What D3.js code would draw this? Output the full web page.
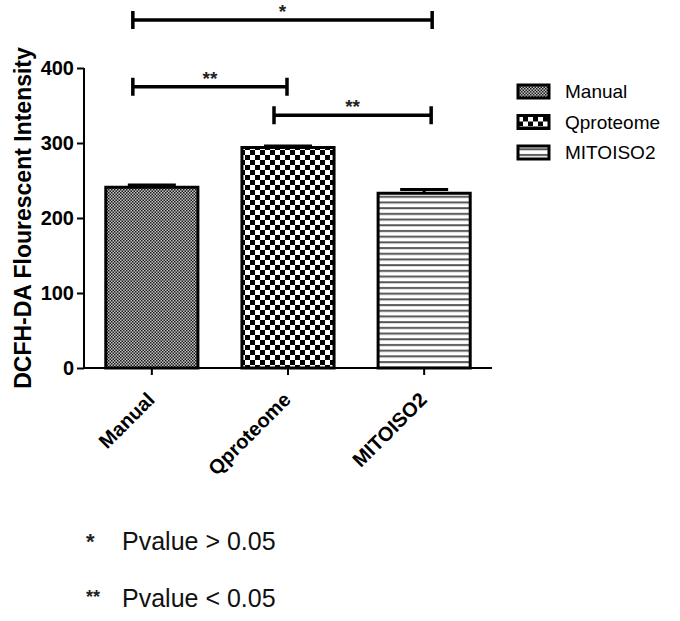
<!DOCTYPE html>
<html>
<head>
<meta charset="utf-8">
<script src="https://cdn.jsdelivr.net/npm/d3@7"></script>
<style>
  body { margin: 0; background: #fff; }
  svg { display: block; font-family: "Liberation Sans", Arial, sans-serif; }
</style>
</head>
<body>
<div id="chart"></div>
<script>
// data
var categories = ["Manual", "Qproteome", "MITOISO2"];
var means = [241, 294, 233];
var errors = [3, 2, 5];
var yTicks = [0, 100, 200, 300, 400];
// significance brackets
var sigFrom = ["Manual", "Manual", "Qproteome"];
var sigTo = ["MITOISO2", "Qproteome", "MITOISO2"];
var sigLabel = ["*", "**", "**"];
var sigValue = [464, 375, 337];
var notes = ["*", "**"];
var noteText = ["Pvalue > 0.05", "Pvalue < 0.05"];

var width = 680, height = 621;
var patterns = ["pManual", "pQprot", "pMito"];
// bracket end offsets from band centre (px), as drawn in the figure
var sigDx1 = [-19, -19, -14];
var sigDx2 = [8, -1, 7];

var svg = d3.select("#chart").append("svg")
    .attr("width", width)
    .attr("height", height);

// fill patterns
var defs = svg.append("defs");
var p1 = defs.append("pattern").attr("id", "pManual")
    .attr("patternUnits", "userSpaceOnUse").attr("width", 3).attr("height", 3);
p1.append("rect").attr("width", 3).attr("height", 3).attr("fill", "#c4c4c4");
p1.append("rect").attr("width", 1.5).attr("height", 1.5).attr("fill", "#1a1a1a");
p1.append("rect").attr("x", 1.5).attr("y", 1.5).attr("width", 1.5).attr("height", 1.5).attr("fill", "#1a1a1a");

var p2 = defs.append("pattern").attr("id", "pQprot")
    .attr("patternUnits", "userSpaceOnUse").attr("width", 10).attr("height", 10);
p2.append("rect").attr("width", 10).attr("height", 10).attr("fill", "#fff");
p2.append("rect").attr("x", 0).attr("y", 0).attr("width", 5).attr("height", 5).attr("fill", "#000");
p2.append("rect").attr("x", 5).attr("y", 5).attr("width", 5).attr("height", 5).attr("fill", "#000");

var p3 = defs.append("pattern").attr("id", "pMito")
    .attr("patternUnits", "userSpaceOnUse").attr("width", 6).attr("height", 5.7);
p3.append("rect").attr("width", 6).attr("height", 5.7).attr("fill", "#fff");
p3.append("rect").attr("y", 2).attr("width", 6).attr("height", 2).attr("fill", "#555");

// scales
var x = d3.scaleBand()
    .domain(categories)
    .range([84, 492])
    .paddingInner(0.3235)
    .paddingOuter(0.16);
var y = d3.scaleLinear()
    .domain([0, 400])
    .range([368, 68]);

function cx(d) { return x(d) + x.bandwidth() / 2; }

// bars
svg.selectAll(".bar")
    .data(categories)
    .enter().append("rect")
    .attr("class", "bar")
    .attr("x", function (d) { return x(d); })
    .attr("y", function (d, i) { return y(means[i]); })
    .attr("width", x.bandwidth())
    .attr("height", function (d, i) { return y(0) - y(means[i]); })
    .attr("fill", function (d, i) { return "url(#" + patterns[i] + ")"; })
    .attr("stroke", "#000")
    .attr("stroke-width", 3);

// error bars (upper only, as drawn)
var capW = 48;
svg.selectAll(".err")
    .data(categories)
    .enter().append("path")
    .attr("class", "err")
    .attr("fill", "none")
    .attr("stroke", "#000")
    .attr("stroke-width", 3)
    .attr("d", function (d, i) {
        var top = y(means[i] + errors[i]);
        return "M" + cx(d) + "," + y(means[i]) + "V" + top +
            "M" + (cx(d) - capW / 2) + "," + top + "H" + (cx(d) + capW / 2);
    });

// axes
var yAxis = svg.append("g")
    .attr("transform", "translate(84,0)")
    .call(d3.axisLeft(y).tickValues(yTicks).tickSize(7).tickPadding(3));
var xAxis = svg.append("g")
    .attr("transform", "translate(0,368)")
    .call(d3.axisBottom(x).tickSize(7).tickSizeOuter(0).tickFormat(""));
svg.selectAll(".domain, .tick line").attr("stroke", "#000").attr("stroke-width", 2);
xAxis.select(".domain").attr("d", "M84,0H492");
yAxis.select(".domain").attr("d", "M0,368V68");
yAxis.selectAll("text")
    .attr("font-size", 20)
    .attr("font-weight", "bold")
    .attr("font-family", "Liberation Sans, Arial, sans-serif")
    .attr("fill", "#000");

// rotated category labels
svg.selectAll(".xlab")
    .data(categories)
    .enter().append("text")
    .attr("class", "xlab")
    .attr("text-anchor", "end")
    .attr("font-size", 20)
    .attr("font-weight", "bold")
    .attr("transform", function (d) {
        return "translate(" + (cx(d) + 4) + ",401) rotate(-45)";
    })
    .text(function (d) { return d; });

// y axis title
svg.append("text")
    .attr("transform", "translate(31,218) rotate(-90)")
    .attr("text-anchor", "middle")
    .attr("font-size", 23)
    .attr("font-weight", "bold")
    .text("DCFH-DA Flourescent Intensity");

// significance brackets
var sig = sigLabel.map(function (s, i) {
    return {
        x1: cx(sigFrom[i]) + sigDx1[i],
        x2: cx(sigTo[i]) + sigDx2[i],
        label: s,
        value: sigValue[i]
    };
});
var br = svg.selectAll(".sig")
    .data(sig)
    .enter().append("g")
    .attr("class", "sig");
br.append("path")
    .attr("fill", "none")
    .attr("stroke", "#000")
    .attr("stroke-width", 3.5)
    .attr("d", function (d) {
        var yy = y(d.value);
        return "M" + d.x1 + "," + (yy - 9) + "V" + (yy + 9) +
            "M" + d.x1 + "," + yy + "H" + d.x2 +
            "M" + d.x2 + "," + (yy - 9) + "V" + (yy + 9);
    });
br.append("text")
    .attr("x", function (d) { return (d.x1 + d.x2) / 2; })
    .attr("y", function (d) { return y(d.value) - 2; })
    .attr("text-anchor", "middle")
    .attr("font-size", 19)
    .attr("font-weight", "bold")
    .attr("fill", "#222")
    .text(function (d) { return d.label; });

// legend
var leg = svg.selectAll(".leg")
    .data(categories)
    .enter().append("g")
    .attr("class", "leg")
    .attr("transform", function (d, i) { return "translate(518," + (91 + i * 30.5) + ")"; });
leg.append("rect")
    .attr("x", 0).attr("y", -6)
    .attr("width", 31).attr("height", 13)
    .attr("fill", function (d, i) { return "url(#" + patterns[i] + ")"; })
    .attr("stroke", "#000")
    .attr("stroke-width", 3);
leg.append("text")
    .attr("x", 47)
    .attr("y", 7)
    .attr("font-size", 19)
    .text(function (d) { return d; });

// footnotes
var fn = svg.selectAll(".note")
    .data(notes)
    .enter().append("g")
    .attr("class", "note")
    .attr("transform", function (d, i) { return "translate(0," + (550 + i * 57) + ")"; });
fn.append("text")
    .attr("x", 86)
    .attr("y", function (d, i) { return i ? -4 : -1; })
    .attr("font-size", function (d, i) { return i ? 18 : 22; })
    .attr("font-weight", "bold")
    .attr("fill", "#222")
    .text(function (d) { return d; });
fn.append("text")
    .attr("x", 122)
    .attr("font-size", 25)
    .attr("fill", "#111")
    .text(function (d, i) { return noteText[i]; });
</script>
</body>
</html>
